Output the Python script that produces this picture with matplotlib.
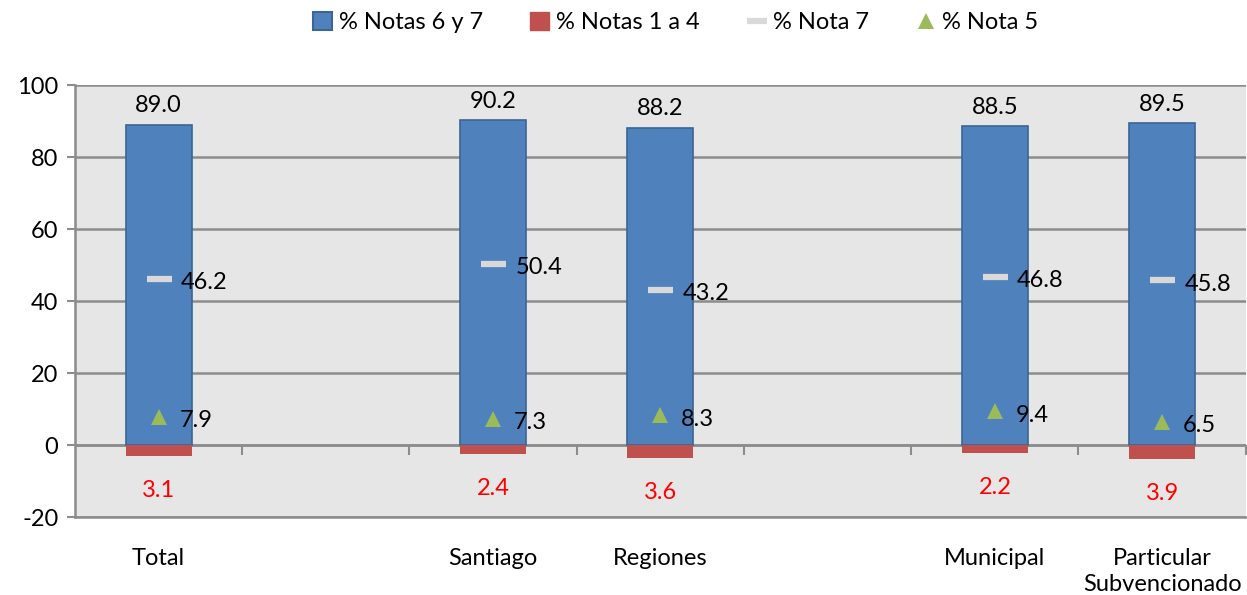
import numpy as np
import matplotlib
matplotlib.use("Agg")
import matplotlib.pyplot as plt
from matplotlib.patches import Patch
from matplotlib.lines import Line2D

plt.rcParams['font.family'] = ['Lato', 'DejaVu Sans']
plt.rcParams['axes.unicode_minus'] = False

categories = ["Total", "", "Santiago", "Regiones", "", "Municipal", "Particular\nSubvencionado"]
notas_6_7 = [89.0, np.nan, 90.2, 88.2, np.nan, 88.5, 89.5]
notas_1_4 = [3.1, np.nan, 2.4, 3.6, np.nan, 2.2, 3.9]
nota_7 = [46.2, np.nan, 50.4, 43.2, np.nan, 46.8, 45.8]
nota_5 = [7.9, np.nan, 7.3, 8.3, np.nan, 9.4, 6.5]
yticks = [-20, 0, 20, 40, 60, 80, 100]

c_blue = "#4f81bd"
c_blue_edge = "#3a6595"
c_red = "#c0504d"
c_dash = "#d9d9d9"
c_green = "#9bbb59"
c_grid = "#8c8c8c"
c_bg = "#e6e6e6"
fs = 17

fig = plt.figure(figsize=(12.47, 5.95), dpi=100)
ax = fig.add_axes([0.0601, 0.131, 0.9389, 0.726])
ax.set_facecolor(c_bg)

x = np.arange(len(categories))
w = 0.395
blue = np.array(notas_6_7, dtype=float)
red = -np.array(notas_1_4, dtype=float)
n7 = np.array(nota_7, dtype=float)
n5 = np.array(nota_5, dtype=float)

ax.set_ylim(-20, 100)
ax.set_xlim(-0.5, len(categories) - 0.5)
ax.set_yticks(yticks)
ax.yaxis.grid(True, color=c_grid, linewidth=1.8, zorder=0)
ax.set_axisbelow(True)

ax.bar(x, blue, width=w, color=c_blue, edgecolor=c_blue_edge, linewidth=1.2, zorder=3)
ax.bar(x, red, width=w, color=c_red, linewidth=0, zorder=3)
ax.plot(x, n7, linestyle='none', marker='_', markersize=18, markeredgewidth=4.5,
        color=c_dash, zorder=4)
ax.plot(x, n5, linestyle='none', marker='^', markersize=11, color=c_green,
        markeredgewidth=0, zorder=4)

for xi, b, r, a, g, rv in zip(x, blue, red, n7, n5, notas_1_4):
    if np.isnan(b):
        continue
    ax.annotate(f"{b:.1f}", (xi, b), xytext=(0, 6), textcoords='offset points',
                ha='center', va='bottom', fontsize=fs, color='black', zorder=5)
    ax.annotate(f"{a:.1f}", (xi, a), xytext=(16, -3), textcoords='offset points',
                ha='left', va='center', fontsize=fs, color='black', zorder=5)
    ax.annotate(f"{g:.1f}", (xi, g), xytext=(15, -3), textcoords='offset points',
                ha='left', va='center', fontsize=fs, color='black', zorder=5)
    ax.annotate(f"{rv:.1f}", (xi, r), xytext=(0, -25), textcoords='offset points',
                ha='center', va='center', fontsize=fs, color='#ff0000', zorder=5)

# axes styling
for s in ['top', 'right']:
    ax.spines[s].set_visible(False)
ax.spines['left'].set_color(c_grid)
ax.spines['left'].set_linewidth(1.8)
ax.spines['bottom'].set_color(c_grid)
ax.spines['bottom'].set_linewidth(1.8)
ax.tick_params(axis='y', colors=c_grid, length=6, width=1.5, labelsize=fs,
               labelcolor='black', pad=6)
ax.set_xticks(x)
ax.set_xticklabels(categories, fontsize=fs, va='top', linespacing=1.3)
ax.tick_params(axis='x', length=0, pad=22, labelcolor='black')

# zero axis with category boundary ticks
ax.axhline(0, color=c_grid, linewidth=1.8, zorder=2)
sec = ax.secondary_xaxis(20 / 120)
sec.set_xticks(np.arange(len(categories)) + 0.5)
sec.set_xticklabels([])
sec.tick_params(axis='x', direction='out', length=7, width=1.5, colors=c_grid)
sec.spines['bottom'].set_visible(False)
sec.spines['top'].set_visible(False)

handles = [
    Patch(facecolor=c_blue, edgecolor=c_blue_edge, linewidth=1.5),
    Patch(facecolor=c_red, edgecolor=c_red),
    Line2D([], [], linestyle='none', marker='_', markersize=14, markeredgewidth=4.5, color=c_dash),
    Line2D([], [], linestyle='none', marker='^', markersize=11, color=c_green, markeredgewidth=0),
]
labels = ["% Notas 6 y 7", "% Notas 1 a 4", "% Nota 7", "% Nota 5"]
fig.legend(handles, labels, loc='center', bbox_to_anchor=(0.542, 0.962), ncol=4,
           frameon=False, fontsize=fs, handlelength=0.8, handleheight=0.8,
           handletextpad=0.3, columnspacing=2.0)

fig.savefig("out.png", dpi=100)
